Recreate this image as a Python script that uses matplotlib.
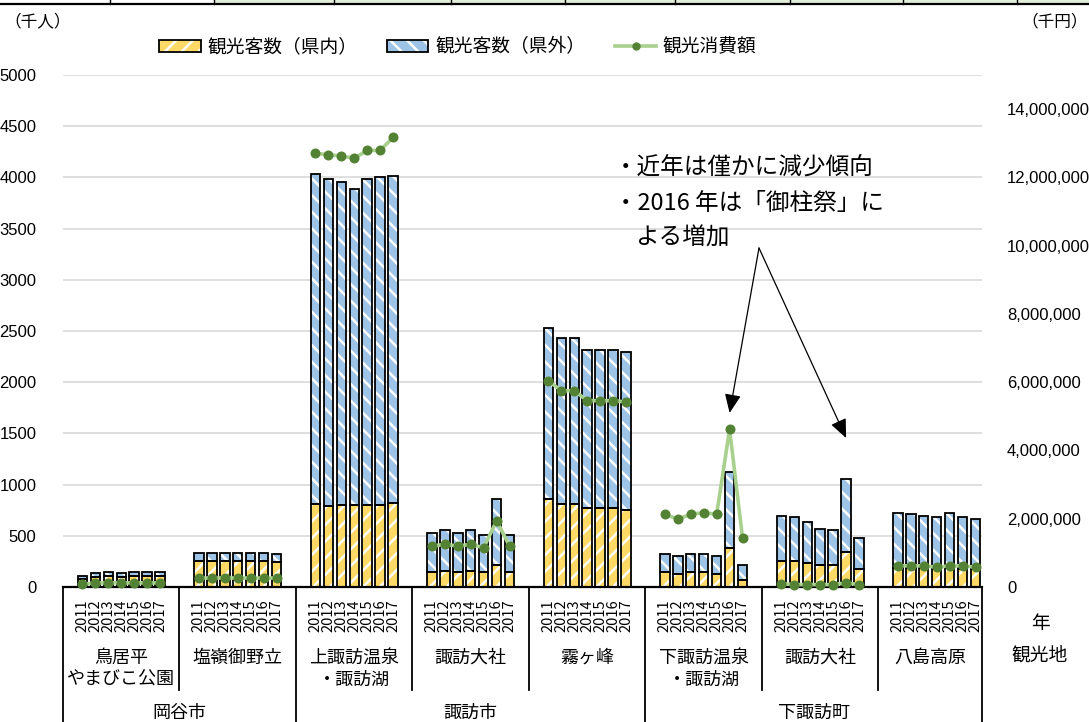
import numpy as np
import matplotlib
matplotlib.use("Agg")
import matplotlib.pyplot as plt
from matplotlib.patches import Patch, Rectangle
from matplotlib.lines import Line2D
from matplotlib.legend_handler import HandlerTuple
from matplotlib.ticker import FuncFormatter, MultipleLocator

plt.rcParams['font.family'] = ['Noto Sans CJK JP', 'DejaVu Sans']
plt.rcParams['hatch.linewidth'] = 1.8

# --- data: visitors in thousands of people, spending in thousands of yen ---
years = ['2011', '2012', '2013', '2014', '2015', '2016', '2017']
spots = ['鳥居平\nやまびこ公園', '塩嶺御野立', '上諏訪温泉\n・諏訪湖', '諏訪大社',
         '霧ヶ峰', '下諏訪温泉\n・諏訪湖', '諏訪大社', '八島高原']
cities = ['岡谷市', '諏訪市', '下諏訪町']
spots_per_city = [2, 3, 3]

visitors_in = [
    [75, 100, 105, 100, 105, 105, 105],
    [255, 255, 255, 255, 255, 255, 240],
    [810, 795, 800, 800, 805, 805, 820],
    [145, 160, 145, 160, 145, 210, 145],
    [855, 815, 815, 770, 775, 775, 755],
    [145, 130, 145, 145, 130, 385, 65],
    [255, 255, 235, 210, 210, 345, 175],
    [185, 185, 185, 180, 185, 180, 180],
]
visitors_out = [
    [30, 35, 45, 35, 45, 45, 45],
    [80, 80, 80, 80, 80, 80, 80],
    [3220, 3185, 3155, 3090, 3175, 3195, 3195],
    [380, 395, 380, 395, 365, 645, 365],
    [1670, 1615, 1615, 1540, 1535, 1535, 1540],
    [175, 175, 175, 175, 175, 735, 145],
    [440, 425, 395, 360, 345, 710, 300],
    [540, 525, 510, 500, 540, 500, 485],
]
spending = [
    [80000, 120000, 120000, 120000, 120000, 120000, 120000],
    [250000, 250000, 250000, 250000, 250000, 250000, 250000],
    [12710000, 12660000, 12630000, 12560000, 12790000, 12790000, 13170000],
    [1200000, 1250000, 1200000, 1250000, 1150000, 1940000, 1200000],
    [6040000, 5750000, 5750000, 5460000, 5460000, 5460000, 5420000],
    [2130000, 1990000, 2130000, 2180000, 2130000, 4620000, 1430000],
    [100000, 70000, 70000, 70000, 70000, 120000, 70000],
    [620000, 620000, 620000, 580000, 620000, 620000, 580000],
]

YELLOW = '#FFD966'
BLUE = '#9DC3E6'
LINE_GREEN = '#A9D18E'
DOT_GREEN = '#548235'

W, H = 1089, 722
fig = plt.figure(figsize=(W / 100, H / 100), dpi=100)

# plot area in pixels (left, top, right, bottom)
PL, PT, PR, PB = 63, 75, 982, 587


def fx(px):
    return px / W


def fy(py):
    return 1 - py / H


ax = fig.add_axes([fx(PL), fy(PB), (PR - PL) / W, (PB - PT) / H])
ax2 = ax.twinx()

# each spot takes 9 slots: one blank, seven years, one blank (last spot has no trailing blank)
group_slots = 9
n_slots = group_slots * (len(spots) - 1) + 8
bar_w = 0.73

for g in range(len(spots)):
    x = g * group_slots + 1.5 + np.arange(len(years))
    vin = np.array(visitors_in[g])
    vout = np.array(visitors_out[g])
    ax.bar(x, vin, bar_w, color=YELLOW, edgecolor='white', hatch='//', linewidth=0, zorder=2)
    ax.bar(x, vout, bar_w, bottom=vin, color=BLUE, edgecolor='white', hatch='\\\\', linewidth=0, zorder=2)
    ax.bar(x, vin, bar_w, fill=False, edgecolor='black', linewidth=1.3, zorder=3)
    ax.bar(x, vout, bar_w, bottom=vin, fill=False, edgecolor='black', linewidth=1.3, zorder=3)
    ax2.plot(x, spending[g], color=LINE_GREEN, lw=2.6, marker='o', ms=6.2,
             mfc=DOT_GREEN, mec=DOT_GREEN, zorder=4, clip_on=False)

ax.set_xlim(0, n_slots)
ax.set_ylim(0, 5000)
ax2.set_ylim(0, 15000000)
ax.yaxis.set_major_locator(MultipleLocator(500))
ax2.yaxis.set_major_locator(MultipleLocator(2000000))
ax2.yaxis.set_major_formatter(FuncFormatter(lambda v, p: f'{int(v):,}'))
ax.grid(axis='y', color='#D9D9D9', lw=1.2, zorder=0)
ax.set_axisbelow(True)
ax.set_xticks([])

for a in (ax, ax2):
    for side in ('left', 'right', 'top'):
        a.spines[side].set_visible(False)
ax2.spines['bottom'].set_visible(False)
ax.spines['bottom'].set_linewidth(1.6)
ax.spines['bottom'].set_zorder(5)

ax.tick_params(axis='y', length=0, pad=19, labelsize=12)
ax2.tick_params(axis='y', length=0, pad=18, labelsize=12)
for lab in ax.get_yticklabels() + ax2.get_yticklabels():
    lab.set_fontfamily(['Liberation Sans', 'DejaVu Sans'])

# --- multi-level category axis ---
tr = ax.get_xaxis_transform()


def ay(py):
    return (PB - py) / (PB - PT)


for g, name in enumerate(spots):
    start = g * group_slots
    end = min(start + group_slots, n_slots)
    for i, yr in enumerate(years):
        ax.text(start + 1.5 + i, ay(599), yr, rotation=90, ha='center', va='top',
                fontsize=10.5, transform=tr)
    for j, line in enumerate(name.split('\n')):
        ax.text((start + end) / 2, ay(658 + 22 * j), line, ha='center', va='center',
                fontsize=13, transform=tr)

city_edges = [0]
for n in spots_per_city:
    city_edges.append(city_edges[-1] + n)
city_bounds = [min(e * group_slots, n_slots) for e in city_edges]

for c, name in enumerate(cities):
    ax.text((city_bounds[c] + city_bounds[c + 1]) / 2, ay(713), name, ha='center',
            va='center', fontsize=13, transform=tr)

for g in range(len(spots) + 1):
    xb = min(g * group_slots, n_slots)
    bottom = ay(H) if xb in city_bounds else ay(690)
    ax.add_line(Line2D([xb, xb], [0, bottom], color='black', lw=1.3,
                       transform=tr, clip_on=False))

# --- axis captions ---
fig.text(fx(4), fy(22), '（千人）', ha='left', va='center', fontsize=12)
fig.text(fx(1088), fy(22), '（千円）', ha='right', va='center', fontsize=12)
fig.text(fx(1040), fy(623), '年', ha='center', va='center', fontsize=13.5)
fig.text(fx(1040), fy(655), '観光地', ha='center', va='center', fontsize=13.5)

# --- legend ---
h_in = (Patch(facecolor=YELLOW, edgecolor='white', hatch='//', linewidth=0),
        Patch(fill=False, edgecolor='black', linewidth=1.3))
h_out = (Patch(facecolor=BLUE, edgecolor='white', hatch='\\\\', linewidth=0),
         Patch(fill=False, edgecolor='black', linewidth=1.3))
h_spend = Line2D([], [], color=LINE_GREEN, lw=2.6, marker='o', ms=5,
                 mfc=DOT_GREEN, mec=DOT_GREEN)
fig.legend([h_in, h_out, h_spend], ['観光客数（県内）', '観光客数（県外）', '観光消費額'],
           handler_map={tuple: HandlerTuple(ndivide=1, pad=0)},
           loc='center', bbox_to_anchor=(fx(458), fy(47)), ncol=3, frameon=False,
           fontsize=13.5, handlelength=2.2, handleheight=0.65, handletextpad=0.35,
           columnspacing=1.6, numpoints=1, borderaxespad=0, borderpad=0)

# --- note with arrows ---
fig.text(fx(614), fy(168), '・近年は僅かに減少傾向', ha='left', va='center', fontsize=17)
fig.text(fx(614), fy(203), '・2016 年は「御柱祭」に', ha='left', va='center', fontsize=17)
fig.text(fx(635), fy(238), 'よる増加', ha='left', va='center', fontsize=17)

arrow = dict(arrowstyle='-|>,head_length=1.15,head_width=0.5', mutation_scale=10,
             color='black', lw=0.9, shrinkA=0, shrinkB=0)
ax.annotate('', xy=(5 * group_slots + 6.5, 1700), xycoords='data',
            xytext=(fx(759), fy(248)), textcoords='figure fraction', arrowprops=arrow)
ax.annotate('', xy=(6 * group_slots + 6.5, 1455), xycoords='data',
            xytext=(fx(759), fy(248)), textcoords='figure fraction', arrowprops=arrow)

# --- strip of the table above the chart ---
fig.add_artist(Rectangle((fx(214), fy(3)), 1 - fx(214), 3 / H, transform=fig.transFigure,
                         facecolor='#E2EFDA', edgecolor='none'))
fig.add_artist(Line2D([0, 1], [fy(4), fy(4)], color='black', lw=1.6, transform=fig.transFigure))
for xv in [110, 214, 334, 451, 565, 675, 790, 903, 1017]:
    fig.add_artist(Line2D([fx(xv), fx(xv)], [fy(4), 1], color='black', lw=1.0,
                          transform=fig.transFigure))

fig.savefig('out.png', dpi=100)
